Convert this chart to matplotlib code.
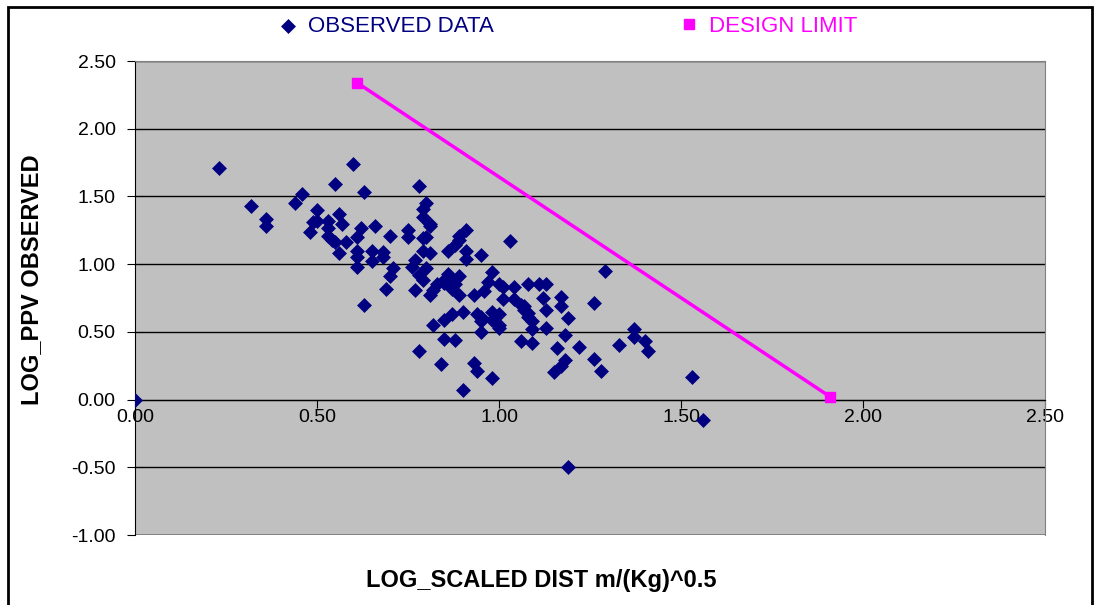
import matplotlib.pyplot as plt
from matplotlib.patches import Rectangle
from matplotlib.lines import Line2D

# observed data (log scaled distance, log ppv)
obs_x = [0.00, 0.23, 0.32, 0.36, 0.36, 0.44, 0.46, 0.48, 0.49, 0.50, 0.50, 0.53, 0.53, 0.53,
         0.54, 0.55, 0.55, 0.56, 0.57, 0.58, 0.56, 0.60, 0.63, 0.62, 0.61, 0.61, 0.61, 0.61,
         0.66, 0.65, 0.65, 0.68, 0.68, 0.63, 0.69, 0.70, 0.70, 0.71,
         0.75, 0.75, 0.78, 0.80, 0.79, 0.79, 0.81, 0.81, 0.80, 0.79, 0.79, 0.81, 0.77, 0.76,
         0.80, 0.78, 0.79, 0.77, 0.81, 0.82, 0.83, 0.78, 0.82, 0.84,
         0.86, 0.87, 0.85, 0.85, 0.89, 0.88, 0.87, 0.89, 0.89, 0.89, 0.88, 0.91, 0.86, 0.91,
         0.91, 0.95, 0.93, 0.96, 0.97, 0.98, 1.00, 1.01, 1.01, 0.85, 0.87, 0.90, 0.94, 0.95,
         0.95, 0.98, 0.98, 0.99, 1.00, 1.00, 1.00, 0.95, 0.85, 0.88, 0.93, 0.94, 0.98, 0.90,
         1.03, 1.04, 1.04, 1.06, 1.07, 1.07, 1.08, 1.08, 1.09, 1.09, 1.08, 1.11, 1.13, 1.12,
         1.13, 1.13, 1.17, 1.17, 1.19, 1.18, 1.06, 1.09, 1.16, 1.22, 1.15, 1.17, 1.18, 1.19,
         1.26, 1.29, 1.26, 1.28, 1.33, 1.37, 1.37, 1.40, 1.41, 1.53, 1.56]
obs_y = [0.00, 1.71, 1.43, 1.33, 1.28, 1.45, 1.52, 1.24, 1.31, 1.40, 1.32, 1.32, 1.27, 1.21,
         1.18, 1.16, 1.59, 1.37, 1.30, 1.16, 1.08, 1.74, 1.53, 1.27, 1.20, 1.10, 1.05, 0.98,
         1.28, 1.10, 1.02, 1.09, 1.05, 0.70, 0.82, 0.91, 1.21, 0.97,
         1.25, 1.20, 1.58, 1.45, 1.41, 1.35, 1.30, 1.28, 1.20, 1.19, 1.10, 1.08, 1.03, 0.98,
         0.97, 0.92, 0.88, 0.81, 0.77, 0.81, 0.85, 0.36, 0.55, 0.26,
         0.93, 0.88, 0.86, 0.88, 0.91, 0.85, 0.82, 0.77, 1.21, 1.18, 1.14, 1.25, 1.10, 1.10,
         1.04, 1.07, 0.77, 0.80, 0.87, 0.94, 0.85, 0.83, 0.74, 0.59, 0.63, 0.65, 0.63, 0.58,
         0.61, 0.65, 0.59, 0.61, 0.63, 0.55, 0.53, 0.50, 0.45, 0.44, 0.27, 0.21, 0.16, 0.07,
         1.17, 0.83, 0.74, 0.70, 0.66, 0.69, 0.61, 0.64, 0.58, 0.52, 0.85, 0.85, 0.85, 0.75,
         0.66, 0.53, 0.76, 0.69, 0.60, 0.48, 0.43, 0.42, 0.38, 0.39, 0.20, 0.25, 0.29, -0.50,
         0.71, 0.95, 0.30, 0.21, 0.40, 0.52, 0.46, 0.43, 0.36, 0.17, -0.15]

# design limit line
lim_x = [0.61, 1.91]
lim_y = [2.34, 0.02]

xticks = [0.0, 0.5, 1.0, 1.5, 2.0, 2.5]
yticks = [-1.0, -0.5, 0.0, 0.5, 1.0, 1.5, 2.0, 2.5]

plt.rcParams['font.family'] = ['Liberation Sans', 'DejaVu Sans']

fig = plt.figure(figsize=(11, 6.05), dpi=100)
fig.patches.append(Rectangle((8 / 1100, -0.1), 1084 / 1100, 1 - 7 / 605 + 0.1,
                             transform=fig.transFigure, fill=False, ec='black', lw=2))

ax = fig.add_axes([135 / 1100, 70 / 605, 910 / 1100, 474 / 605])
ax.set_facecolor('#c0c0c0')

obs = ax.scatter(obs_x, obs_y, marker='D', s=58, color='#000080', zorder=3,
                 label='OBSERVED DATA', linewidths=0)
ax.plot(lim_x, lim_y, color='#ff00ff', lw=2.5, marker='s', markersize=7, zorder=4)

ax.spines['bottom'].set_position(('data', 0))
ax.spines['bottom'].set_color('black')
ax.spines['left'].set_color('black')
ax.spines['top'].set_color('#808080')
ax.spines['right'].set_color('#808080')

ax.set_xlim(0, 2.5)
ax.set_ylim(-1, 2.5)
ax.set_xticks(xticks)
ax.set_yticks(yticks)
ax.set_xticklabels(['%.2f' % v for v in xticks])
ax.set_yticklabels(['%.2f' % v for v in yticks])
ax.tick_params(axis='both', direction='out', length=6, color='black', labelsize=14)
ax.tick_params(axis='x', pad=1)
ax.tick_params(axis='y', pad=8)
ax.axhline(-1, color='#808080', lw=2, zorder=1)
ax.yaxis.grid(True, color='black', lw=1)
ax.set_axisbelow(True)

lim_handle = Line2D([], [], ls='none', marker='s', markersize=7, color='#ff00ff')
leg = ax.legend([obs, lim_handle], ['OBSERVED DATA', 'DESIGN LIMIT'],
                loc='center left', bbox_to_anchor=(259 / 1100, 1 - 26 / 605),
                bbox_transform=fig.transFigure, ncol=2, frameon=False, fontsize=16,
                handlelength=0.8, handletextpad=0.5, columnspacing=8.4)
for txt, col in zip(leg.get_texts(), ['#000080', '#ff00ff']):
    txt.set_color(col)

fig.text(32 / 1100, 1 - 280 / 605, 'LOG_PPV OBSERVED', rotation=90, ha='center', va='center',
         fontsize=17, fontweight='bold')
fig.text(541 / 1100, 1 - 580 / 605, 'LOG_SCALED DIST m/(Kg)^0.5', ha='center', va='center',
         fontsize=17, fontweight='bold')

fig.savefig('out.png', dpi=100)
